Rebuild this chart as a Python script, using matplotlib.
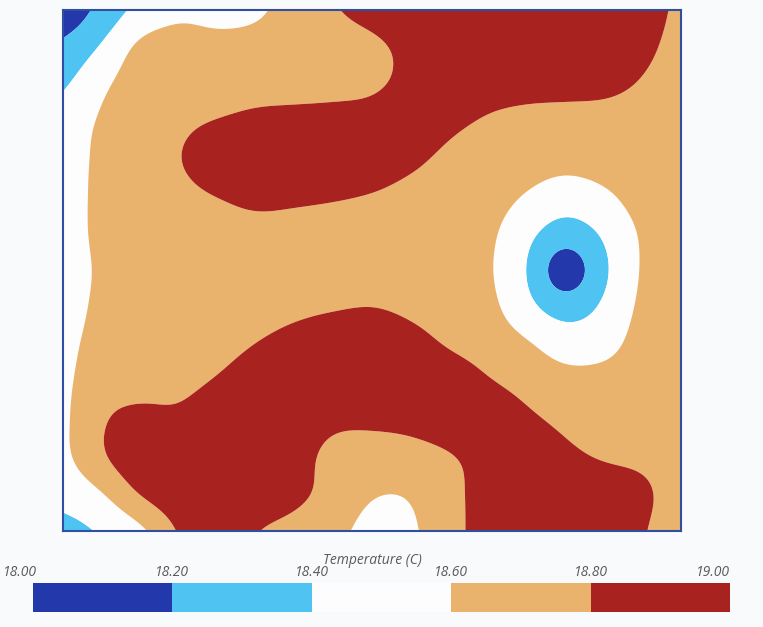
import numpy as np
import matplotlib
matplotlib.use("Agg")
import matplotlib.pyplot as plt
import matplotlib.transforms as mtransforms
from matplotlib.colors import ListedColormap, BoundaryNorm
from matplotlib.cm import ScalarMappable

# ---------------- data ----------------
levels = [18.0, 18.2, 18.4, 18.6, 18.8, 19.0]
tick_labels = ["18.00", "18.20", "18.40", "18.60", "18.80", "19.00"]
band_colors = ["#2338ab", "#4fc4f2", "#fdfdfd", "#e9b36e", "#a8221f"]
colorbar_title = "Temperature (C)"

# temperature samples on a regular grid over the room (rows: top -> bottom, cols: left -> right)
temperature = [
    [18.06, 18.262, 18.462, 18.562, 18.536, 18.567, 18.682, 18.782, 18.88, 18.98, 19.0, 19.0, 19.0, 19.0, 19.0, 18.9, 18.76],
    [18.249, 18.421, 18.654, 18.682, 18.662, 18.671, 18.7, 18.711, 18.744, 18.869, 19.0, 19.0, 19.0, 19.0, 19.0, 18.86, 18.73],
    [18.375, 18.566, 18.692, 18.7, 18.705, 18.721, 18.727, 18.733, 18.751, 18.877, 19.0, 18.92, 18.885, 18.87, 18.865, 18.78, 18.7],
    [18.495, 18.626, 18.7, 18.751, 18.806, 18.855, 18.87, 18.885, 18.91, 18.975, 18.86, 18.767, 18.731, 18.727, 18.716, 18.707, 18.7],
    [18.518, 18.64, 18.701, 18.79, 18.975, 19.0, 19.0, 19.0, 18.96, 18.857, 18.742, 18.7, 18.686, 18.662, 18.682, 18.7, 18.7],
    [18.521, 18.646, 18.7, 18.729, 18.8, 18.865, 18.845, 18.82, 18.782, 18.723, 18.7, 18.682, 18.589, 18.5, 18.567, 18.677, 18.7],
    [18.521, 18.646, 18.7, 18.7, 18.711, 18.723, 18.716, 18.708, 18.7, 18.7, 18.7, 18.643, 18.457, 18.3, 18.426, 18.626, 18.7],
    [18.513, 18.63, 18.7, 18.7, 18.7, 18.7, 18.7, 18.7, 18.705, 18.7, 18.7, 18.626, 18.403, 18.05, 18.36, 18.622, 18.7],
    [18.521, 18.646, 18.7, 18.7, 18.7, 18.712, 18.748, 18.778, 18.8, 18.754, 18.707, 18.657, 18.462, 18.308, 18.435, 18.643, 18.7],
    [18.55, 18.671, 18.7, 18.7, 18.728, 18.805, 18.89, 18.96, 18.98, 18.888, 18.778, 18.719, 18.63, 18.514, 18.533, 18.675, 18.7],
    [18.565, 18.705, 18.723, 18.736, 18.82, 18.93, 19.0, 19.0, 19.0, 19.0, 18.925, 18.816, 18.727, 18.664, 18.671, 18.7, 18.7],
    [18.565, 18.783, 18.865, 18.85, 18.97, 19.0, 18.94, 18.85, 18.84, 18.865, 18.925, 18.965, 18.845, 18.743, 18.7, 18.7, 18.7],
    [18.56, 18.783, 18.95, 19.0, 19.0, 19.0, 18.89, 18.733, 18.716, 18.723, 18.778, 18.88, 18.99, 18.86, 18.77, 18.754, 18.721],
    [18.472, 18.584, 18.82, 18.95, 19.0, 18.96, 18.86, 18.729, 18.61, 18.61, 18.745, 18.88, 19.0, 19.0, 18.955, 18.845, 18.716],
    [18.337, 18.42, 18.553, 18.82, 19.0, 18.805, 18.731, 18.654, 18.543, 18.571, 18.724, 18.9, 19.0, 19.0, 18.99, 18.815, 18.707],
]


def cubic_resample(a, n_out, axis):
    """Catmull-Rom resampling of a regularly sampled field along one axis."""
    a = np.moveaxis(np.asarray(a, float), axis, 0)
    n = a.shape[0]
    t = np.linspace(0, n - 1, n_out)
    i = np.clip(np.floor(t).astype(int), 0, n - 2)
    f = (t - i).reshape((-1,) + (1,) * (a.ndim - 1))
    p0 = a[np.clip(i - 1, 0, n - 1)]
    p1 = a[i]
    p2 = a[np.clip(i + 1, 0, n - 1)]
    p3 = a[np.clip(i + 2, 0, n - 1)]
    out = 0.5 * (2 * p1 + (p2 - p0) * f + (2 * p0 - 5 * p1 + 4 * p2 - p3) * f ** 2
                 + (3 * p1 - p0 - 3 * p2 + p3) * f ** 3)
    return np.moveaxis(out, 0, axis)


def gaussian_smooth(a, sigma):
    r = int(3 * sigma)
    k = np.exp(-0.5 * (np.arange(-r, r + 1) / sigma) ** 2)
    k /= k.sum()
    out = np.asarray(a, float)
    for axis in (0, 1):
        pad = [(0, 0), (0, 0)]
        pad[axis] = (r, r)
        p = np.pad(out, pad, mode="reflect", reflect_type="odd")
        out = np.apply_along_axis(lambda v: np.convolve(v, k, mode="valid"), axis, p)
    return out


T = np.array(temperature)
field = cubic_resample(cubic_resample(T, 420, 0), 500, 1)
field = gaussian_smooth(field, 8.0)
ny, nx = field.shape
xg = np.linspace(0, 1, nx)
yg = np.linspace(0, 1, ny)

# ---------------- figure ----------------
W, H = 763, 627
fig = plt.figure(figsize=(W / 100, H / 100), dpi=100, facecolor="#f9fafb")

ax = fig.add_axes([63 / W, 1 - 531 / H, 618 / W, 521 / H])
fill_levels = [16.0] + levels[1:-1] + [21.0]
ax.contourf(xg, yg, field, levels=fill_levels, colors=band_colors, antialiased=True)
ax.set_xlim(0, 1)
ax.set_ylim(1, 0)
ax.set_xticks([])
ax.set_yticks([])
for s in ax.spines.values():
    s.set_color("#2f4f9f")
    s.set_linewidth(1.5)

# ---------------- colour bar ----------------
cax = fig.add_axes([33 / W, 1 - 612 / H, 697 / W, 29 / H])
sm = ScalarMappable(norm=BoundaryNorm(levels, len(band_colors)), cmap=ListedColormap(band_colors))
cb = fig.colorbar(sm, cax=cax, orientation="horizontal")
cb.outline.set_visible(False)
cb.set_ticks([])
cax.minorticks_off()
cax.tick_params(which="both", length=0, labelbottom=False)

txt_color = "#5a5a5a"
font = dict(family=["Open Sans", "DejaVu Sans"], style="italic", color=txt_color, fontsize=10)
blend = mtransforms.blended_transform_factory(cax.transData, cax.transAxes)
for k, (lv, lab) in enumerate(zip(levels, tick_labels)):
    if k == 0:
        tr = mtransforms.offset_copy(blend, fig=fig, x=-13, y=10, units="dots")
        ha = "center"
    elif k == len(levels) - 1:
        tr = mtransforms.offset_copy(blend, fig=fig, x=0, y=10, units="dots")
        ha = "right"
    else:
        tr = mtransforms.offset_copy(blend, fig=fig, x=0, y=10, units="dots")
        ha = "center"
    cax.text(lv, 1.0, lab, transform=tr, ha=ha, va="center", **font)

fig.text(372 / W, 1 - 560 / H, colorbar_title, ha="center", va="center", **font)

fig.savefig("out.png", dpi=100, facecolor=fig.get_facecolor())
